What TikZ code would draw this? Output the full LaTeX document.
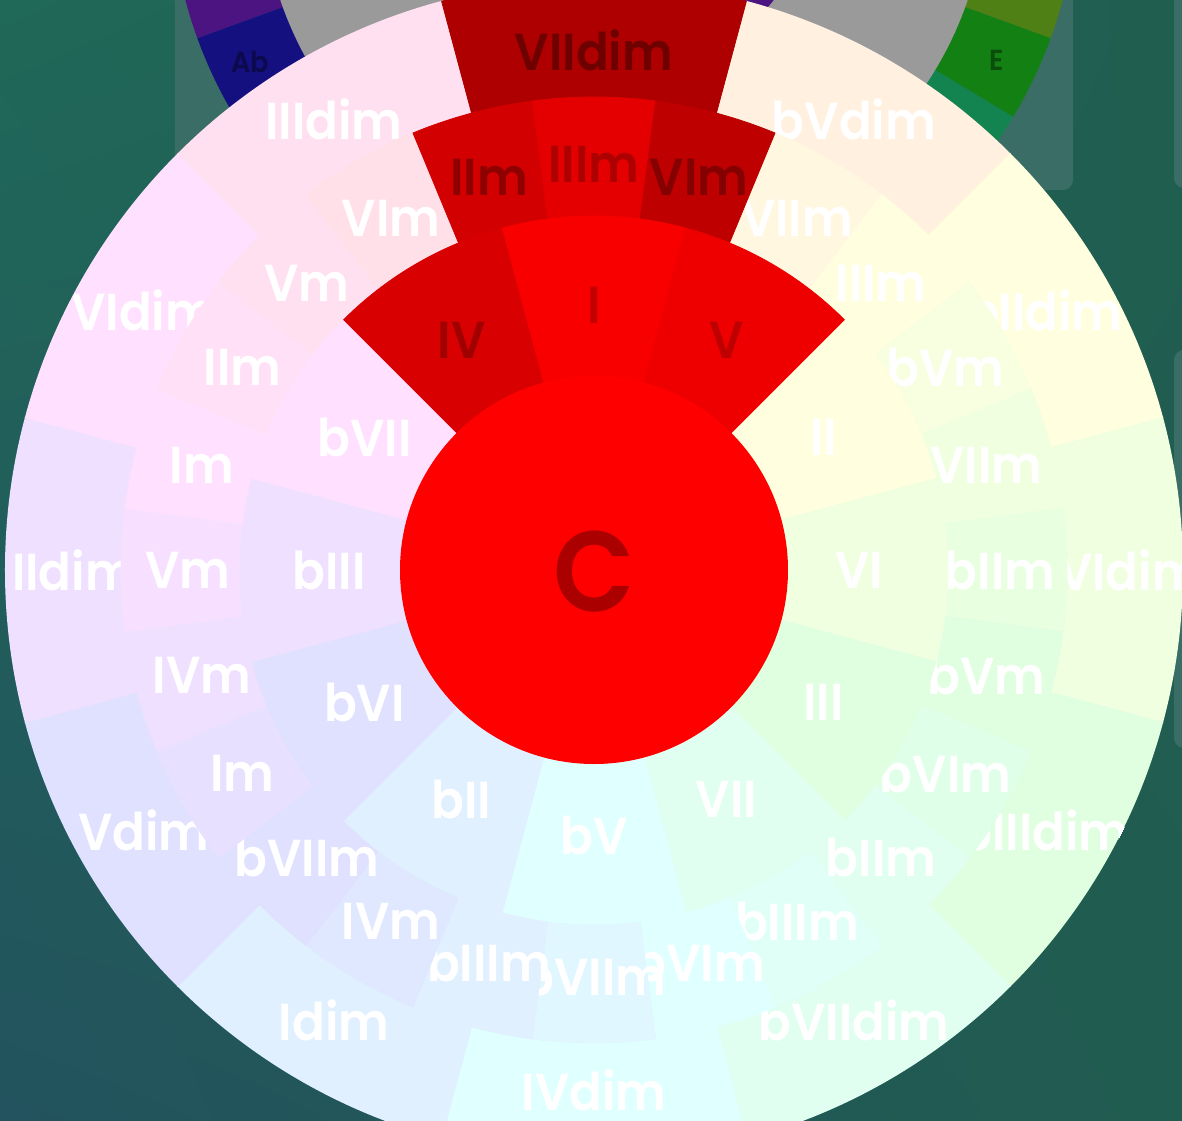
\documentclass[tikz,border=0pt]{standalone}
\usepackage{fontspec}
\setmainfont{Poppins}[BoldFont={Poppins SemiBold}]
\newfontfamily\wheelfont{Poppins SemiBold}[FakeStretch=0.93]
\usetikzlibrary{shadings}
\definecolor{bgtl}{HTML}{206858}
\definecolor{bgtr}{HTML}{205E50}
\definecolor{bgbl}{HTML}{22535E}
\definecolor{bgbr}{HTML}{215C50}
\definecolor{bgpanel}{HTML}{3A6D66}
\definecolor{ringgray}{HTML}{9A9A9A}
\definecolor{bgolive}{HTML}{4F8015}
\definecolor{bggreen}{HTML}{138013}
\definecolor{bgteal}{HTML}{13834F}
\definecolor{bgpurple}{HTML}{4B1480}
\definecolor{bgblue}{HTML}{141080}
\definecolor{tonicred}{HTML}{FF0000}
\definecolor{redI}{HTML}{F80000}
\definecolor{redV}{HTML}{EE0000}
\definecolor{redIV}{HTML}{D80000}
\definecolor{redIIm}{HTML}{D20000}
\definecolor{redIIIm}{HTML}{E40000}
\definecolor{redVIm}{HTML}{BE0000}
\definecolor{redVIIdim}{HTML}{AE0000}
\newcommand{\ringsector}[5]{
\filldraw [fill = #5, draw = #5, line width = 0.4pt] ({90-(#1)-(#2)}:#3) arc [start angle = {90-(#1)-(#2)}, end angle = {90-(#1)+(#2)}, radius = #3]
  -- ({90-(#1)+(#2)}:#4) arc [start angle = {90-(#1)+(#2)}, end angle = {90-(#1)-(#2)}, radius = #4] -- cycle;
}
\newcommand{\setpastel}[1]{
\pgfmathtruncatemacro{\huedeg}{mod(#1+720,360)}
\definecolor{huefull}{Hsb}{\huedeg,1,1}
\colorlet{pastel}[rgb]{huefull!12!white}
}
\tikzset{
  chord/.style = {text = white, inner sep = 0pt, font = \fontsize{26}{30}\wheelfont},
  redchord/.style = {chord, text = #1},
  keyname/.style = {inner sep = 0pt, text = #1, font = \fontsize{14.5}{16}\wheelfont}
}

\begin{document}
\begin{tikzpicture}[x = 0.5pt, y = 0.5pt]
\useasboundingbox (-594,-550) rectangle (588,570);
\shade [upper left = bgtl, upper right = bgtr, lower left = bgbl, lower right = bgbr] (-594,-550) rectangle (588,570);
\fill [bgpanel, rounded corners = 5pt] (-419,380) rectangle (479,620);
\fill [bgpanel, rounded corners = 5pt] (580,382) rectangle (640,620);
\fill [bgpanel, rounded corners = 5pt] (580,-178) rectangle (640,220);

% key wheel behind
\begin{scope}[shift = {(30,687)}]
\foreach \from/\to/\col in {-20/20/bgolive, -31/-20/bggreen, -70/-31/bgteal, 160/200/bgpurple, 200/240/bgblue}
	{\fill [\col] (0,0) -- (\from:454) arc [start angle = \from, end angle = \to, radius = 454] -- cycle;}
\fill [ringgray] (0,0) circle [radius = 363];
\fill [bgpurple] (0,0) circle [radius = 190];
\end{scope}
\node [keyname = bgblue!60!black] (ab) at (-344,508) {Ab};
\node [keyname = bggreen!60!black] (e) at (403,510) {E};

\begin{scope}
\clip (0,0) circle [radius = 589];
% diminished ring
\foreach \lab [count = \i from 0] in {VIIdim,bVdim,bIIdim,bVIdim,bIIIdim,bVIIdim,IVdim,Idim,Vdim,IIdim,VIdim,IIIdim}
	{\ifnum\i>0
	 \pgfmathtruncatemacro{\a}{30*\i}
	 \setpastel{\a}
	 \ringsector{\a}{15}{473}{600}{pastel}
	 \node [chord] (dim\i) at ({90-\a}:520) {\lab};
	 \fi}
% minor ring
\foreach \lab [count = \i from 0] in {IIIm,VIm,VIIm,IIIm,bVm,VIIm,bIIm,bVm,bVIm,bIIm,bIIIm,bVIm,bVIIm,bIIIm,IVm,bVIIm,Im,IVm,Vm,Im,IIm,Vm,VIm,IIm}
	{\ifnum\i>1 \ifnum\i<23
	 \pgfmathtruncatemacro{\a}{15*\i}
	 \setpastel{\a+15}
	 \ringsector{\a}{7.5}{354}{473}{pastel}
	 \node [chord] (min\i) at ({90-\a}:406) {\lab};
	 \fi\fi}
% major ring
\foreach \lab [count = \i from 0] in {I,V,II,VI,III,VII,bV,bII,bVI,bIII,bVII,IV}
	{\ifnum\i>1 \ifnum\i<11
	 \pgfmathtruncatemacro{\a}{30*\i}
	 \setpastel{\a}
	 \ringsector{\a}{15}{150}{354}{pastel}
	 \node [chord] (maj\i) at ({90-\a}:265) {\lab};
	 \fi\fi}

% the key of C
\ringsector{0}{15}{473}{600}{redVIIdim}
\node [redchord = redVIIdim!63!black] (dimc) at (90:520) {VIIdim};
\ringsector{-15}{7.5}{354}{473}{redIIm}
\node [redchord = redIIm!68!black] (iim) at (105:406) {IIm};
\ringsector{0}{7.5}{354}{473}{redIIIm}
\node [redchord = redIIIm!76!black] (iiim) at (90:406) {IIIm};
\ringsector{15}{7.5}{354}{473}{redVIm}
\node [redchord = redVIm!70!black] (vim) at (75:406) {VIm};
\ringsector{-30}{15}{150}{354}{redIV}
\node [redchord = redIV!74!black] (iv) at (120:265) {IV};
\ringsector{0}{15}{150}{354}{redI}
\node [redchord = redI!78!black] (i) at (90:265) {I};
\ringsector{30}{15}{150}{354}{redV}
\node [redchord = redV!80!black] (v) at (60:265) {V};
\end{scope}

\fill [tonicred] (0,0) circle [radius = 194];
\node [inner sep = 0pt, text = tonicred!67!black, font = \fontsize{57}{63}\wheelfont] (tonic) at (0,-2) {C};
\end{tikzpicture}
\end{document}
